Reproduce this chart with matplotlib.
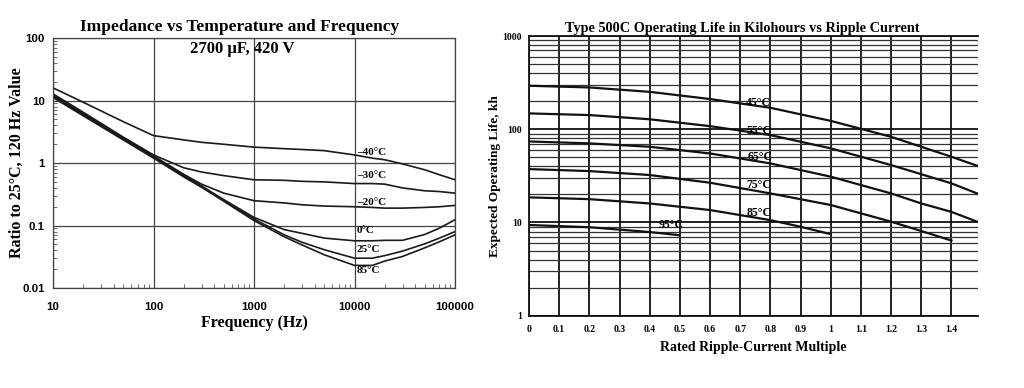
import numpy as np
import matplotlib.pyplot as plt
from matplotlib.ticker import FixedLocator, NullFormatter, LogLocator

# left chart data: impedance ratio vs frequency
freq = [10, 20, 50, 100, 200, 300, 500, 1000, 2000, 3000, 5000,
        10000, 15000, 20000, 30000, 50000, 70000, 100000]
z_m40 = [16, 9.4, 4.6, 2.75, 2.35, 2.15, 2.0, 1.8, 1.7, 1.65, 1.58,
         1.35, 1.2, 1.13, 0.97, 0.78, 0.65, 0.54]
z_m30 = [12.8, 6.5, 2.6, 1.35, 0.84, 0.72, 0.63, 0.54, 0.53, 0.51, 0.5,
         0.47, 0.47, 0.46, 0.40, 0.36, 0.35, 0.33]
z_m20 = [12.4, 6.3, 2.55, 1.3, 0.66, 0.46, 0.33, 0.25, 0.23, 0.215, 0.205,
         0.20, 0.195, 0.19, 0.19, 0.195, 0.2, 0.21]
z_0 = [12.0, 6.1, 2.5, 1.27, 0.64, 0.43, 0.26, 0.135, 0.086, 0.075, 0.063,
       0.057, 0.057, 0.058, 0.058, 0.072, 0.091, 0.124]
z_25 = [11.6, 5.9, 2.4, 1.24, 0.62, 0.42, 0.25, 0.127, 0.071, 0.054, 0.041,
        0.030, 0.030, 0.033, 0.039, 0.051, 0.063, 0.080]
z_85 = [11.2, 5.7, 2.35, 1.2, 0.6, 0.41, 0.245, 0.12, 0.066, 0.049, 0.034,
        0.023, 0.023, 0.027, 0.032, 0.044, 0.055, 0.071]
imp_curves = [z_m40, z_m30, z_m20, z_0, z_25, z_85]
imp_labels = ['\u201340\u00b0C', '\u201330\u00b0C', '\u201320\u00b0C', '0\u00b0C', '25\u00b0C', '85\u00b0C']
imp_label_y = [1.45, 0.63, 0.235, 0.083, 0.042, 0.019]

# right chart data: operating life vs ripple current multiple
x_45 = [0, 0.2, 0.4, 0.6, 0.8, 1.0, 1.2, 1.4, 1.485]
life_45 = [293, 281, 252, 211, 170, 123, 83, 50.7, 40.6]
x_55 = [0, 0.2, 0.4, 0.6, 0.8, 1.0, 1.2, 1.4, 1.485]
life_55 = [148, 142, 128, 108, 86.6, 62.4, 41.3, 26.3, 20.5]
x_65 = [0, 0.2, 0.4, 0.6, 0.8, 1.0, 1.2, 1.3, 1.4, 1.485]
life_65 = [74, 70.6, 64.9, 55, 43, 31, 20.5, 16, 13, 10.2]
x_75 = [0, 0.2, 0.4, 0.6, 0.8, 1.0, 1.2, 1.3, 1.4]
life_75 = [37.4, 35.6, 32.3, 26.7, 20.5, 15.4, 10.2, 8.1, 6.4]
x_85 = [0, 0.2, 0.4, 0.6, 0.8, 0.9, 1.0]
life_85 = [18.6, 17.8, 16, 13.6, 10.6, 9, 7.5]
x_95 = [0, 0.2, 0.4, 0.5]
life_95 = [9.4, 8.9, 7.9, 7.3]
life_x = [x_45, x_55, x_65, x_75, x_85, x_95]
life_y = [life_45, life_55, life_65, life_75, life_85, life_95]
life_labels = ['45\u00b0C', '55\u00b0C', '65\u00b0C', '75\u00b0C', '85\u00b0C', '95\u00b0C']
life_label_pos = [(0.72, 190), (0.72, 97), (0.725, 50), (0.72, 25), (0.72, 12.5), (0.43, 9.4)]
x_ticks = [0, 0.1, 0.2, 0.3, 0.4, 0.5, 0.6, 0.7, 0.8, 0.9, 1, 1.1, 1.2, 1.3, 1.4]

serif = 'Liberation Serif'
sans = 'Liberation Sans'

fig = plt.figure(figsize=(10.24, 3.88), dpi=100)

# ---- left chart ----
ax1 = fig.add_axes([0.0518, 0.2577, 0.3926, 0.644])
for z in imp_curves:
    ax1.plot(freq, z, color='#1a1a1a', lw=1.2)
ax1.set_xscale('log')
ax1.set_yscale('log')
ax1.set_xlim(10, 100000)
ax1.set_ylim(0.01, 100)
ax1.grid(True, which='major', color='#444444', lw=0.9)
ax1.xaxis.set_minor_locator(LogLocator(base=10, subs=np.arange(2, 10)))
ax1.yaxis.set_minor_locator(LogLocator(base=10, subs=np.arange(2, 10)))
ax1.xaxis.set_minor_formatter(NullFormatter())
ax1.yaxis.set_minor_formatter(NullFormatter())
ax1.tick_params(which='major', length=0, pad=10)
ax1.tick_params(axis='y', which='major', pad=6)
ax1.tick_params(which='minor', direction='in', length=3, color='#555555')
ax1.set_xticks([10, 100, 1000, 10000, 100000])
ax1.set_xticklabels(['10', '100', '1000', '10000', '100000'])
ax1.set_yticks([0.01, 0.1, 1, 10, 100])
ax1.set_yticklabels(['0.01', '0.1', '1', '10', '100'])
for lab in ax1.get_xticklabels() + ax1.get_yticklabels():
    lab.set_fontfamily(sans)
    lab.set_fontweight('bold')
    lab.set_fontsize(8.2)
for sp in ax1.spines.values():
    sp.set_color('#444444')
    sp.set_linewidth(0.9)
for lab, yv in zip(imp_labels, imp_label_y):
    ax1.text(10500, yv, lab, family=serif, weight='bold', fontsize=8,
             va='center', ha='left')
ax1.set_title('Impedance vs Temperature and Frequency', family=serif,
              weight='bold', fontsize=12.5, pad=5, x=0.465)
ax1.text(0.47, 0.955, '2700 \u00b5F, 420 V', transform=ax1.transAxes,
         family=serif, weight='bold', fontsize=12, ha='center', va='center')
ax1.set_xlabel('Frequency (Hz)', family=serif, weight='bold', fontsize=11.5, labelpad=2)
ax1.set_ylabel('Ratio to 25\u00b0C, 120 Hz Value', family=serif, weight='bold',
               fontsize=11.5, labelpad=-2)

# ---- right chart ----
ax2 = fig.add_axes([0.5166, 0.1863, 0.4385, 0.7208])
ax2.set_yscale('log')
ax2.set_xlim(0, 1.488)
ax2.set_ylim(1, 1000)
ax2.xaxis.set_major_locator(FixedLocator(x_ticks))
ax2.set_xticklabels([('%g' % v) for v in x_ticks])
ax2.yaxis.set_minor_locator(LogLocator(base=10, subs=np.arange(2, 10)))
ax2.yaxis.set_minor_formatter(NullFormatter())
ax2.set_yticks([1, 10, 100, 1000])
ax2.set_yticklabels(['1', '10', '100', '1000'])
ax2.grid(True, axis='x', which='major', color='#111111', lw=1.3)
ax2.grid(True, axis='y', which='major', color='#111111', lw=1.3)
ax2.grid(True, axis='y', which='minor', color='#333333', lw=0.9)
ax2.tick_params(which='both', length=0)
ax2.tick_params(axis='x', pad=7)
ax2.tick_params(axis='y', pad=5)
for lab in ax2.get_xticklabels() + ax2.get_yticklabels():
    lab.set_fontfamily(serif)
    lab.set_fontweight('bold')
    lab.set_fontsize(7)
ax2.spines['right'].set_visible(False)
for s in ['left', 'bottom', 'top']:
    ax2.spines[s].set_color('#111111')
    ax2.spines[s].set_linewidth(1.3)
for xs, ys in zip(life_x, life_y):
    ax2.plot(xs, ys, color='#111111', lw=1.6)
for lab, (xv, yv) in zip(life_labels, life_label_pos):
    ax2.text(xv, yv, lab, family=serif, weight='bold', fontsize=8.5,
             ha='left', va='center')
ax2.set_title('Type 500C Operating Life in Kilohours vs Ripple Current',
              family=serif, weight='bold', fontsize=10.3, pad=3, x=0.475)
ax2.set_xlabel('Rated Ripple-Current Multiple', family=serif, weight='bold',
               fontsize=10, labelpad=5)
ax2.set_ylabel('Expected Operating Life, kh', family=serif, weight='bold',
               fontsize=9.5, labelpad=1)

fig.savefig('out.png', dpi=100)
